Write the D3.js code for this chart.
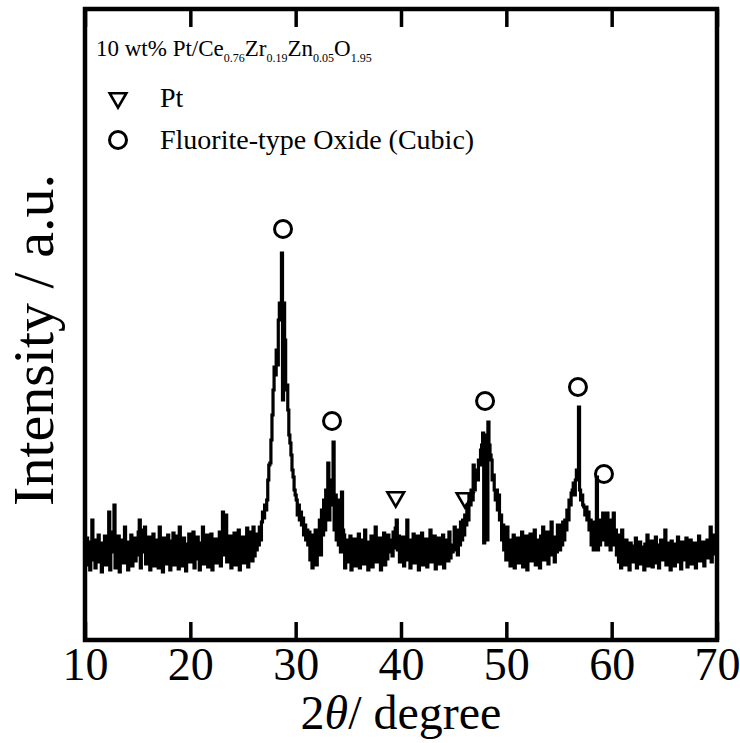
<!DOCTYPE html>
<html>
<head>
<meta charset="utf-8">
<script src="https://cdn.jsdelivr.net/npm/d3@7"></script>
<style>
  body { margin: 0; background: #fff; }
</style>
</head>
<body>
<div id="chart"></div>
<script>
(() => {
"use strict";

const WIDTH = 740, HEIGHT = 743;
const SERIF = '"Liberation Serif", "Times New Roman", Times, serif';
const margin = { left: 85, right: 23, top: 9, bottom: 103 };

// 2theta grid: starts at 10 deg, 0.1 deg per point
const START = 10, STEP = 0.1;

// intensity (arbitrary units), one row per degree
const intensity = [
  90, 75, 102, 85, 98, 70, 88, 120, 80, 95,        // 10
  72, 100, 84, 105, 78, 92, 68, 97, 86, 104,
  75, 95, 82, 128, 70, 99, 88, 108, 135, 72,
  96, 80, 104, 68, 92, 85, 100, 77, 113, 82,
  98, 70, 94, 86, 105, 74, 90, 102, 79, 96,
  85, 108, 120, 72, 97, 88, 110, 113, 76, 92,       // 15
  80, 103, 70, 95, 87, 106, 74, 98, 84, 100,
  72, 113, 88, 96, 68, 102, 82, 94, 76, 105,
  86, 70, 99, 84, 107, 75, 93, 80, 104, 71,
  113, 88, 97, 74, 102, 85, 69, 96, 83, 106,
  78, 94, 87, 108, 72, 99, 81, 103, 90, 70,         // 20
  97, 84, 113, 76, 100, 88, 105, 73, 95, 82,
  106, 70, 93, 86, 101, 77, 98, 84, 108, 74,
  96, 128, 85, 102, 125, 78, 94, 87, 104, 72,
  99, 83, 107, 75, 92, 86, 110, 70, 97, 81,
  103, 77, 95, 88, 112, 73, 100, 85, 108, 79,       // 25
  113, 84, 98, 90, 106, 95, 113, 100, 118, 128,
  122, 135, 130, 140, 160, 175, 177, 200, 225, 250,
  273, 265, 290, 275, 320, 337, 330, 387, 240, 337,
  300, 250, 255, 230, 205, 197, 185, 170, 163, 150,
  145, 140, 125, 135, 120, 128, 115, 122, 105, 115, // 30
  100, 110, 95, 108, 80, 105, 72, 100, 85, 110,
  75, 102, 90, 120, 85, 130, 105, 140, 110, 150,
  125, 177, 120, 150, 135, 160, 198, 110, 145, 100,
  140, 95, 130, 88, 148, 110, 105, 72, 100, 78,
  95, 80, 104, 70, 92, 86, 101, 74, 97, 83,         // 35
  106, 72, 94, 88, 100, 76, 110, 82, 96, 70,
  98, 85, 104, 73, 92, 87, 113, 78, 95, 84,
  102, 70, 97, 86, 107, 75, 93, 81, 105, 88,
  96, 100, 84, 108, 92, 112, 120, 90, 104, 78,
  98, 86, 103, 74, 95, 88, 120, 80, 97, 72,         // 40
  100, 84, 106, 77, 93, 89, 104, 70, 96, 82,
  107, 75, 94, 87, 101, 73, 98, 85, 110, 78,
  95, 83, 104, 71, 92, 88, 102, 76, 97, 84,
  105, 72, 96, 86, 100, 79, 108, 82, 94, 88,
  95, 113, 90, 105, 85, 110, 95, 118, 100, 120,     // 45
  105, 125, 115, 135, 120, 145, 135, 150, 140, 175,
  150, 163, 170, 160, 180, 175, 190, 195, 207, 97,
  205, 200, 100, 218, 195, 185, 180, 160, 165, 150,
  140, 150, 130, 145, 120, 125, 100, 115, 90, 108,
  80, 113, 86, 100, 74, 96, 88, 105, 72, 94,        // 50
  85, 102, 77, 97, 90, 108, 73, 95, 83, 104,
  70, 98, 86, 106, 79, 94, 88, 110, 75, 100,
  84, 96, 72, 104, 90, 113, 80, 98, 87, 108,
  76, 95, 85, 118, 92, 103, 78, 100, 88, 115,
  110, 90, 115, 95, 118, 100, 120, 110, 130, 120,   // 55
  140, 135, 147, 150, 157, 145, 160, 170, 167, 233,
  150, 140, 145, 135, 133, 125, 133, 120, 128, 110,
  120, 95, 118, 90, 115, 100, 163, 90, 110, 95,
  120, 100, 127, 105, 118, 95, 127, 100, 115, 90,
  120, 95, 127, 100, 110, 85, 105, 78, 96, 72,      // 60
  110, 84, 95, 75, 100, 82, 92, 70, 97, 86,
  78, 94, 83, 102, 72, 90, 85, 98, 76, 93,
  88, 70, 96, 82, 105, 74, 91, 86, 99, 73,
  92, 84, 103, 77, 95, 72, 88, 100, 80, 94,
  86, 110, 75, 97, 83, 92, 70, 99, 85, 90,          // 65
  74, 96, 88, 103, 78, 93, 71, 98, 84, 95,
  80, 102, 73, 94, 86, 100, 76, 91, 83, 97,
  72, 95, 87, 104, 79, 92, 85, 98, 74, 96,
  88, 100, 82, 94, 113, 78, 97, 86, 105, 90,
  95                                                 // 70
];

// phase markers placed above the reflections
const fluoritePeaks = [28.8, 33.45, 47.98, 56.8, 59.27];
const fluoriteMarkY = [411, 219, 239, 253, 166];
const ptPeaks = [39.5, 46.08];
const ptMarkY = [143, 142];

const xTicks = [10, 20, 30, 40, 50, 60, 70];

const sampleName = [
  { t: "10 wt% Pt/Ce", sub: false }, { t: "0.76", sub: true },
  { t: "Zr", sub: false }, { t: "0.19", sub: true },
  { t: "Zn", sub: false }, { t: "0.05", sub: true },
  { t: "O", sub: false }, { t: "1.95", sub: true }
];
const legendLabels = ["Pt", "Fluorite-type Oxide (Cubic)"];

let svg = d3.select("#chart").append("svg")
  .attr("width", WIDTH)
  .attr("height", HEIGHT)
  .style("font-family", SERIF);

let x = d3.scaleLinear()
  .domain([10, 70])
  .range([margin.left, WIDTH - margin.right]);
let y = d3.scaleLinear()
  .domain([0, 631])
  .range([HEIGHT - margin.bottom, margin.top]);

let scan = intensity.map((v, i) => [START + i * STEP, v]);

svg.append("path")
  .datum(scan)
  .attr("fill", "none")
  .attr("stroke", "#000")
  .attr("stroke-width", 3.2)
  .attr("d", d3.line().curve(d3.curveStep).x(d => x(d[0])).y(d => y(d[1])));

// axes: inward ticks on top and bottom, no ticks on the sides
let bottom = svg.append("g")
  .attr("transform", `translate(0,${y(0)})`)
  .call(d3.axisBottom(x).tickValues(xTicks).tickSizeInner(-18).tickSizeOuter(0).tickPadding(7).tickFormat(d3.format("d")));
let top = svg.append("g")
  .attr("transform", `translate(0,${y(631)})`)
  .call(d3.axisTop(x).tickValues(xTicks).tickSizeInner(-18).tickSizeOuter(0).tickFormat(""));
[bottom, top].forEach(g => {
  g.select(".domain").remove();
  g.selectAll(".tick line").attr("stroke", "#000").attr("stroke-width", 3.5);
});
bottom.attr("font-family", null).attr("font-size", null);
bottom.selectAll(".tick text")
  .style("font-family", SERIF)
  .style("font-size", "46px")
  .attr("fill", "#000");

svg.append("rect")
  .attr("x", x(10)).attr("y", y(631))
  .attr("width", x(70) - x(10)).attr("height", y(0) - y(631))
  .attr("fill", "none").attr("stroke", "#000").attr("stroke-width", 4.5);

// axis titles
let xt = svg.append("text")
  .attr("x", (x(10) + x(70)) / 2).attr("y", 729)
  .attr("text-anchor", "middle")
  .style("font-family", SERIF)
  .style("font-size", "48px");
xt.append("tspan").text("2");
xt.append("tspan").style("font-style", "italic").text("\u03b8");
xt.append("tspan").text("/ degree");

svg.append("text")
  .attr("transform", "translate(53,340) rotate(-90)")
  .attr("text-anchor", "middle")
  .style("font-family", SERIF)
  .style("font-size", "58px")
  .text("Intensity / a.u.");

// sample name with subscripts
let nm = svg.append("text").attr("x", 96).attr("y", 56)
  .style("font-family", SERIF).style("font-size", "23px");
nm.selectAll("tspan").data(sampleName).join("tspan")
  .style("font-size", d => d.sub ? "12px" : "23px")
  .attr("dy", (d, i) => i === 0 ? 0 : (d.sub ? 6 : -6))
  .text(d => d.t);

// markers
const tri = d3.symbol().type(d3.symbolTriangle).size(120);
function triangle(g, cx, cy) {
  g.append("path")
    .attr("d", tri())
    .attr("transform", `translate(${cx},${cy}) rotate(180)`)
    .attr("fill", "none").attr("stroke", "#000").attr("stroke-width", 2.6);
}
function circle(g, cx, cy) {
  g.append("circle")
    .attr("cx", cx).attr("cy", cy).attr("r", 8.5)
    .attr("fill", "none").attr("stroke", "#000").attr("stroke-width", 3);
}

let marks = svg.append("g");
fluoritePeaks.forEach((p, i) => circle(marks, x(p), y(fluoriteMarkY[i])));
ptPeaks.forEach((p, i) => triangle(marks, x(p), y(ptMarkY[i])));

// legend
let legend = svg.append("g");
triangle(legend, 118, 98);
circle(legend, 118, 140);
legendLabels.forEach((l, i) => {
  legend.append("text")
    .attr("x", 160).attr("y", 107 + i * 42)
    .style("font-family", SERIF)
    .style("font-size", "28px")
    .text(l);
});
})();
</script>
</body>
</html>
